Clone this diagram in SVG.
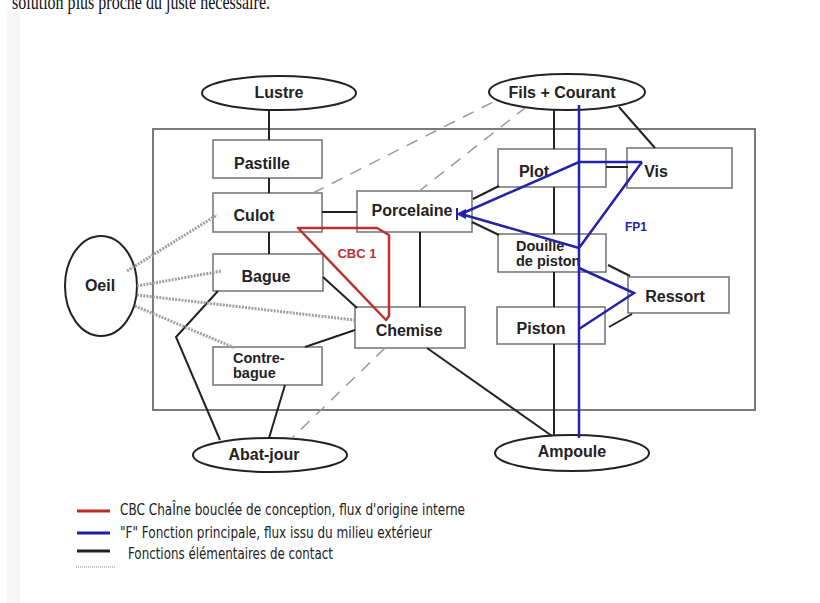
<svg xmlns="http://www.w3.org/2000/svg" width="820" height="603" viewBox="0 0 820 603">
<style>
.box{fill:#fff;stroke:#7a7a7a;stroke-width:1.6}
.ell{fill:#fff;stroke:#222;stroke-width:2}
.lbl{font-family:"Liberation Sans",Arial,sans-serif;font-size:16px;font-weight:bold;fill:#222}
.sm{font-size:14.5px}
.c{text-anchor:middle}
.blk{fill:none;stroke:#222;stroke-width:2}
.dash{fill:none;stroke:#9a9a9a;stroke-width:1.5;stroke-dasharray:12 9}
.dot{fill:none;stroke:#a0a0a0;stroke-width:3;stroke-dasharray:2 1.2}
.blue{fill:none;stroke:#2323a8;stroke-width:2.5}
.red{fill:none;stroke:#b83232;stroke-width:2.5;stroke-linejoin:round}
.leg{font-family:"DejaVu Sans Condensed","Liberation Sans",Arial,sans-serif;font-size:15px;fill:#222}
</style>
<rect width="820" height="603" fill="#fff"/>
<rect x="7" y="11" width="13" height="592" fill="#f6f6f6"/>
<text x="12" y="9" font-family="'Liberation Serif','Times New Roman',serif" font-size="21" fill="#111" textLength="258" lengthAdjust="spacingAndGlyphs">solution plus proche du juste nécessaire.</text>

<rect id="frame" x="153" y="129" width="602" height="281" fill="none" stroke="#7a7a7a" stroke-width="2"/>

<g id="lustre"><ellipse class="ell" cx="279" cy="93" rx="77" ry="17"/><text class="lbl c" x="279" y="98">Lustre</text></g>
<g id="fils-courant"><ellipse class="ell" cx="567" cy="92" rx="78" ry="18"/><text class="lbl c" x="562" y="98">Fils + Courant</text></g>
<g id="oeil"><ellipse class="ell" cx="101" cy="286" rx="36" ry="50"/><text class="lbl c" x="100" y="291">Oeil</text></g>
<g id="abat-jour"><ellipse class="ell" cx="270" cy="455" rx="77" ry="17"/><text class="lbl c" x="264" y="460">Abat-jour</text></g>
<g id="ampoule"><ellipse class="ell" cx="572" cy="453" rx="77" ry="18"/><text class="lbl c" x="572" y="457">Ampoule</text></g>

<g id="pastille"><rect class="box" x="213" y="140" width="109" height="38"/><text class="lbl c" x="262" y="169">Pastille</text></g>
<g id="culot"><rect class="box" x="213" y="193" width="109" height="39"/><text class="lbl c" x="254" y="221">Culot</text></g>
<g id="bague"><rect class="box" x="213" y="254" width="110" height="37"/><text class="lbl c" x="266" y="282">Bague</text></g>
<g id="contre-bague"><rect class="box" x="213" y="347" width="109" height="38"/><text class="lbl sm" x="233" y="363">Contre-</text><text class="lbl sm" x="233" y="378">bague</text></g>
<g id="porcelaine"><rect class="box" x="357" y="191" width="115" height="41"/><text class="lbl c" x="412" y="216">Porcelaine</text></g>
<g id="chemise"><rect class="box" x="355" y="307" width="110" height="41"/><text class="lbl c" x="409" y="336">Chemise</text></g>
<g id="plot"><rect class="box" x="498" y="149" width="108" height="38"/><text class="lbl c" x="534" y="177">Plot</text></g>
<g id="vis"><rect class="box" x="627" y="148" width="105" height="40"/><text class="lbl c" x="656" y="177">Vis</text></g>
<g id="douille"><rect class="box" x="498" y="234" width="108" height="38"/><text class="lbl sm" x="516" y="251">Douille</text><text class="lbl sm" x="516" y="266">de piston</text></g>
<g id="ressort"><rect class="box" x="628" y="277" width="101" height="36"/><text class="lbl c" x="675" y="302">Ressort</text></g>
<g id="piston"><rect class="box" x="497" y="307" width="108" height="37"/><text class="lbl c" x="541" y="334">Piston</text></g>

<g id="connectors">
<line class="blk" x1="269" y1="110" x2="269" y2="140"/>
<line class="blk" x1="269" y1="178" x2="269" y2="193"/>
<line class="blk" x1="269" y1="232" x2="269" y2="254"/>
<line class="blk" x1="322" y1="212" x2="357" y2="212"/>
<line class="blk" x1="420" y1="232" x2="420" y2="307"/>
<line class="blk" x1="323" y1="277" x2="357" y2="308"/>
<polyline class="blk" points="218,291 176,337 220,440"/>
<line class="blk" x1="285" y1="385" x2="269" y2="438"/>
<line class="blk" x1="305" y1="347" x2="355" y2="330"/>
<line class="blk" x1="427" y1="348" x2="552" y2="436"/>
<line class="blk" x1="554" y1="344" x2="554" y2="435"/>
<line class="blk" x1="554" y1="110" x2="554" y2="149"/>
<line class="blk" x1="554" y1="187" x2="554" y2="234"/>
<line class="blk" x1="554" y1="272" x2="554" y2="307"/>
<line class="blk" x1="619" y1="107" x2="655" y2="148"/>
<line class="blk" x1="606" y1="167" x2="628" y2="167"/>
<line class="blk" x1="473" y1="199" x2="499" y2="186"/>
<line class="blk" x1="472" y1="222" x2="499" y2="235"/>
<line class="blk" x1="608" y1="265" x2="630" y2="276"/>
<line class="blk" x1="609" y1="327" x2="632" y2="314"/>

<line class="dash" x1="313" y1="193" x2="497" y2="100"/>
<line class="dash" x1="418" y1="192" x2="525" y2="108"/>
<line class="dash" x1="385" y1="348" x2="292" y2="438"/>

<line class="dot" x1="127" y1="271" x2="217" y2="215"/>
<line class="dot" x1="137" y1="286" x2="222" y2="271"/>
<line class="dot" x1="137" y1="295" x2="354" y2="320"/>
<line class="dot" x1="135" y1="306" x2="235" y2="348"/>

<path class="red" d="M298,228 L377,228 L389,235 L389,316 L386,320 Z"/>
<text x="357" y="258" text-anchor="middle" font-family="'Liberation Sans',Arial,sans-serif" font-size="13" font-weight="bold" fill="#b83232">CBC 1</text>

<line class="blue" x1="579" y1="105" x2="579" y2="438"/>
<polyline class="blue" points="642,162 579,162 461,214"/>
<polyline class="blue" points="642,162 579,248 461,214"/>
<path d="M456,214 L466,209 L466,219 Z" fill="#2323a8"/>
<line x1="457" y1="208" x2="457" y2="220" stroke="#2323a8" stroke-width="2"/>
<polyline class="blue" points="579,268 634,293 579,329"/>
<text x="636" y="231" text-anchor="middle" font-family="'Liberation Sans',Arial,sans-serif" font-size="12" font-weight="bold" fill="#2323a8">FP1</text>
</g>

<g id="legend">
<line x1="77" y1="511" x2="110" y2="511" stroke="#c0282a" stroke-width="3"/>
<line x1="77" y1="533" x2="110" y2="533" stroke="#1c1ca8" stroke-width="3"/>
<line x1="77" y1="551" x2="110" y2="551" stroke="#222" stroke-width="3"/>
<line x1="76" y1="567" x2="115" y2="567" stroke="#b0b0b0" stroke-width="1.5" stroke-dasharray="1 1"/>
<text class="leg" x="120" y="515" textLength="345" lengthAdjust="spacingAndGlyphs">CBC  ChaÎne bouclée de conception, flux d'origine interne</text>
<text class="leg" x="120" y="538" textLength="312" lengthAdjust="spacingAndGlyphs">"F" Fonction principale, flux issu du milieu extérieur</text>
<text class="leg" x="128" y="559" textLength="205" lengthAdjust="spacingAndGlyphs">Fonctions élémentaires de contact</text>
</g>
</svg>
